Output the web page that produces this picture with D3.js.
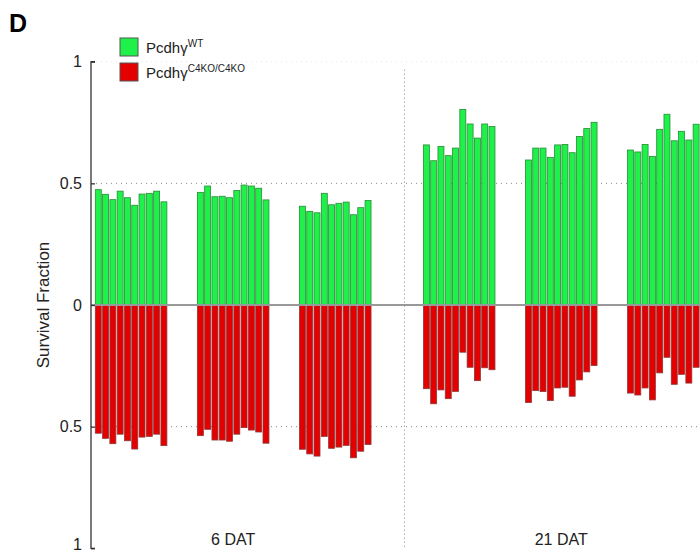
<!DOCTYPE html>
<html>
<head>
<meta charset="utf-8">
<script src="https://cdn.jsdelivr.net/npm/d3@7"></script>
<style>
  body { margin: 0; background: #fff; overflow: hidden; }
  svg { display: block; font-family: "Liberation Sans", Arial, sans-serif; }
</style>
</head>
<body>
<div id="chart"></div>
<script>
// bar start positions (x units) for the six groups of ten bars
let groupStarts = [1, 15, 29, 46, 60, 74];
let sections = ['6 DAT', '21 DAT'];
let sectionCenters = [19.5, 64.5];
let sectionDividers = [43];

// survival fraction, Pcdhg WT (up)
let wtValues = [
  [0.474, 0.455, 0.433, 0.468, 0.441, 0.410, 0.456, 0.459, 0.468, 0.424],
  [0.463, 0.489, 0.445, 0.447, 0.441, 0.471, 0.493, 0.489, 0.480, 0.432],
  [0.406, 0.385, 0.379, 0.459, 0.412, 0.418, 0.423, 0.371, 0.400, 0.430],
  [0.658, 0.593, 0.652, 0.614, 0.645, 0.804, 0.744, 0.686, 0.744, 0.734],
  [0.596, 0.645, 0.645, 0.607, 0.658, 0.660, 0.626, 0.693, 0.725, 0.751],
  [0.637, 0.629, 0.660, 0.611, 0.722, 0.784, 0.675, 0.714, 0.678, 0.743]
];
// survival fraction, Pcdhg C4KO/C4KO (down)
let koValues = [
  [0.527, 0.548, 0.570, 0.531, 0.558, 0.592, 0.543, 0.540, 0.531, 0.578],
  [0.537, 0.511, 0.555, 0.555, 0.560, 0.531, 0.504, 0.514, 0.522, 0.568],
  [0.593, 0.612, 0.621, 0.540, 0.589, 0.584, 0.577, 0.628, 0.601, 0.573],
  [0.344, 0.406, 0.349, 0.385, 0.355, 0.194, 0.256, 0.311, 0.258, 0.266],
  [0.401, 0.352, 0.356, 0.393, 0.341, 0.338, 0.375, 0.308, 0.275, 0.249],
  [0.362, 0.370, 0.341, 0.390, 0.279, 0.215, 0.326, 0.285, 0.321, 0.256]
];
let yTicks = [1, 0.5, 0, -0.5, -1];

let width = 700, height = 554;
let barWidth = 0.82;

let x = d3.scaleLinear().domain([0, 86]).range([91, 718]);
let y = d3.scaleLinear().domain([-1, 1]).range([548.3, 61.7]);

let svg = d3.select('#chart').append('svg')
  .attr('width', width)
  .attr('height', height);

// flatten to bar records
let bars = [];
groupStarts.forEach((start, g) => {
  wtValues[g].forEach((v, i) => {
    bars.push({ pos: start + i, wt: v, ko: koValues[g][i] });
  });
});

// grid
let grid = svg.append('g');
grid.selectAll('.hgrid')
  .data([1, 0.5, -0.5])
  .enter().append('line')
  .attr('x1', x(0)).attr('x2', width)
  .attr('y1', d => y(d)).attr('y2', d => y(d))
  .attr('stroke', '#888')
  .attr('stroke-width', 1)
  .attr('stroke-dasharray', '1,4')
  .attr('opacity', d => d === 1 ? 0.2 : 1);

grid.selectAll('.vgrid')
  .data(sectionDividers)
  .enter().append('line')
  .attr('x1', d => x(d)).attr('x2', d => x(d))
  .attr('y1', y(1) + 8).attr('y2', y(-1))
  .attr('stroke', '#888')
  .attr('stroke-width', 1)
  .attr('stroke-dasharray', '1,3');

// bars
svg.append('g').selectAll('rect')
  .data(bars)
  .enter().append('rect')
  .attr('x', d => x(d.pos - barWidth / 2))
  .attr('width', x(barWidth) - x(0))
  .attr('y', d => y(d.wt))
  .attr('height', d => y(0) - y(d.wt))
  .attr('fill', '#1ef24a')
  .attr('stroke', '#2a8a36')
  .attr('stroke-width', 0.8);

svg.append('g').selectAll('rect')
  .data(bars)
  .enter().append('rect')
  .attr('x', d => x(d.pos - barWidth / 2))
  .attr('width', x(barWidth) - x(0))
  .attr('y', y(0))
  .attr('height', d => y(-d.ko) - y(0))
  .attr('fill', '#e40000')
  .attr('stroke', '#8a3a3a')
  .attr('stroke-width', 0.8);

// zero line
svg.append('line')
  .attr('x1', x(0)).attr('x2', width)
  .attr('y1', y(0)).attr('y2', y(0))
  .attr('stroke', '#999')
  .attr('stroke-width', 2);

// y axis, labels show magnitude on both sides of zero
let yAxis = d3.axisRight(y)
  .tickValues(yTicks)
  .tickSize(4)
  .tickFormat(d => d3.format('')(Math.abs(d)));

let gy = svg.append('g')
  .attr('transform', `translate(${x(0)},0)`)
  .call(yAxis);
gy.select('.domain').attr('stroke', '#333').attr('stroke-width', 1.3)
  .attr('d', `M4,${y(1)}H0V${y(-1)}H4`);
gy.selectAll('.tick line').attr('stroke', '#333').attr('stroke-width', 1.3);
gy.selectAll('.tick text')
  .attr('x', -9)
  .attr('text-anchor', 'end')
  .attr('font-size', 16)
  .attr('font-family', '"Liberation Sans", Arial, sans-serif')
  .attr('fill', '#222')
  .attr('dy', d => d === -1 ? '0.1em' : '0.32em');

svg.append('text')
  .attr('transform', `translate(49,${y(0)}) rotate(-90)`)
  .attr('text-anchor', 'middle')
  .attr('font-size', 17)
  .attr('fill', '#222')
  .text('Survival Fraction');

// section labels
svg.selectAll('.section')
  .data(sections)
  .enter().append('text')
  .attr('x', (d, i) => x(sectionCenters[i]))
  .attr('y', 545)
  .attr('text-anchor', 'middle')
  .attr('font-size', 16)
  .attr('fill', '#222')
  .text(d => d);

// panel letter
svg.append('text')
  .attr('x', 9).attr('y', 32)
  .attr('font-size', 25)
  .attr('font-weight', 'bold')
  .attr('font-family', '"Liberation Sans", Arial, sans-serif')
  .text('D');

// legend
let legendItems = [
  { sup: 'WT', color: '#1ef24a' },
  { sup: 'C4KO/C4KO', color: '#e40000' }
];
let legend = svg.append('g');
let li = legend.selectAll('g')
  .data(legendItems)
  .enter().append('g')
  .attr('transform', (d, i) => `translate(120,${38 + i * 25})`);
li.append('rect')
  .attr('width', 18).attr('height', 18)
  .attr('fill', d => d.color)
  .attr('stroke', '#555')
  .attr('stroke-width', 1);
let lt = li.append('text')
  .attr('x', 26).attr('y', 15)
  .attr('font-size', 15)
  .attr('fill', '#222');
lt.append('tspan').text('Pcdhγ');
lt.append('tspan')
  .attr('dy', -6)
  .attr('font-size', 10)
  .text(d => d.sup);
</script>
</body>
</html>
